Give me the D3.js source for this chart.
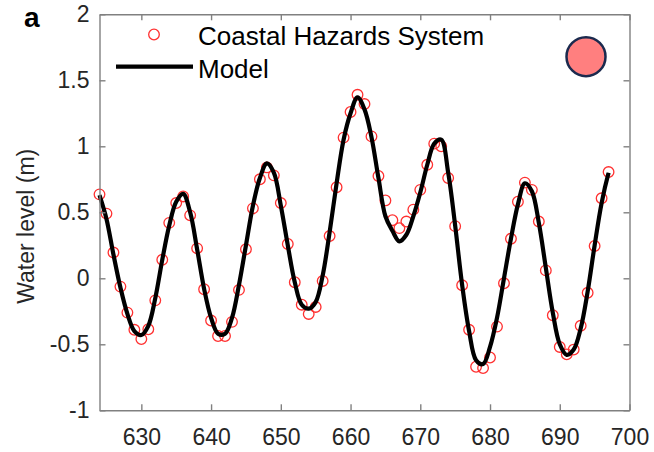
<!DOCTYPE html>
<html>
<head>
<meta charset="utf-8">
<script src="https://cdn.jsdelivr.net/npm/d3@7"></script>
<style>
  html, body { margin: 0; padding: 0; background: #fff; }
  svg { display: block; font-family: "Liberation Sans", Arial, sans-serif; }
</style>
</head>
<body>
<svg id="chart" width="654" height="452"></svg>
<script>
// Hourly water level, Coastal Hazards System observations (hours 624..697)
const chsHours = d3.range(624, 698);
const chsLevels = [
  0.636, 0.49, 0.195, -0.063, -0.26, -0.39, -0.46, -0.386, -0.167, 0.14,
  0.42, 0.57, 0.62, 0.477, 0.227, -0.083, -0.32, -0.437, -0.437, -0.33,
  -0.088, 0.22, 0.53, 0.75, 0.84, 0.78, 0.57, 0.26, -0.03, -0.2,
  -0.27, -0.217, -0.02, 0.32, 0.69, 1.066, 1.26, 1.39, 1.32, 1.075,
  0.775, 0.59, 0.44, 0.38, 0.43, 0.52, 0.67, 0.86, 1.02, 1.0,
  0.76, 0.395, -0.053, -0.39, -0.67, -0.68, -0.60, -0.366, -0.038, 0.30,
  0.58, 0.725, 0.67, 0.43, 0.06, -0.28, -0.52, -0.576, -0.54, -0.36,
  -0.11, 0.245, 0.606, 0.805
];

// Modelled water level at the same hours
const modelHours = d3.range(624, 698);
const modelLevels = [
  0.63, 0.45, 0.18, -0.07, -0.27, -0.40, -0.43, -0.36, -0.15, 0.14,
  0.40, 0.58, 0.64, 0.50, 0.22, -0.08, -0.30, -0.42, -0.42, -0.30,
  -0.05, 0.25, 0.55, 0.76, 0.87, 0.80, 0.55, 0.25, -0.03, -0.20,
  -0.23, -0.18, 0.02, 0.35, 0.72, 1.05, 1.25, 1.37, 1.28, 1.07,
  0.76, 0.47, 0.36, 0.28, 0.33, 0.47, 0.65, 0.86, 1.02, 1.05,
  0.80, 0.40, -0.05, -0.40, -0.62, -0.65, -0.52, -0.30, 0.00, 0.30,
  0.56, 0.72, 0.66, 0.42, 0.08, -0.26, -0.50, -0.58, -0.54, -0.38,
  -0.10, 0.25, 0.57, 0.80
];

const xTicks = [630, 640, 650, 660, 670, 680, 690, 700];
const yTicks = [-1, -0.5, 0, 0.5, 1, 1.5, 2];
const seriesNames = ["Coastal Hazards System", "Model"];
const panelLabel = "a";
const yTitle = "Water level (m)";

const svg = d3.select("#chart");
const plotLeft = 99.5, plotRight = 629.5, plotTop = 14.3, plotBottom = 410.3;

const x = d3.scaleLinear().domain([624, 700]).range([plotLeft, plotRight]);
const y = d3.scaleLinear().domain([-1, 2]).range([plotBottom, plotTop]);

const axisColor = "#808080";
const textColor = "#262626";
const fmt = v => String(v);

// Observations (drawn first so the model line sits on top)
svg.append("g")
  .selectAll("circle")
  .data(chsHours.map((h, i) => [h, chsLevels[i]]))
  .join("circle")
  .attr("cx", d => x(d[0]))
  .attr("cy", d => y(d[1]))
  .attr("r", 5.3)
  .attr("fill", "none")
  .attr("stroke", "#ff3030")
  .attr("stroke-width", 1.3);

// Model line
const line = d3.line()
  .x(d => x(d[0]))
  .y(d => y(d[1]))
  .curve(d3.curveCatmullRom.alpha(0.5));

svg.append("path")
  .datum(modelHours.map((h, i) => [h, modelLevels[i]]))
  .attr("d", line)
  .attr("fill", "none")
  .attr("stroke", "#000")
  .attr("stroke-width", 4.2)
  .attr("stroke-linejoin", "round");

// Axes box with inward ticks
function styleAxis(g) {
  g.select(".domain").attr("stroke", axisColor).attr("stroke-width", 1.4).attr("fill", "none");
  g.selectAll(".tick line").attr("stroke", axisColor).attr("stroke-width", 1.4);
  g.selectAll(".tick text")
    .attr("fill", textColor)
    .style("font-size", "23px")
    .style("font-family", "'Liberation Sans', Arial, sans-serif");
}

svg.append("g")
  .attr("transform", `translate(0,${plotBottom})`)
  .call(d3.axisBottom(x).tickValues(xTicks).tickFormat(fmt)
        .tickSizeInner(-6).tickSizeOuter(0).tickPadding(18))
  .call(styleAxis);

svg.append("g")
  .attr("transform", `translate(0,${plotTop})`)
  .call(d3.axisTop(x).tickValues(xTicks).tickFormat("")
        .tickSizeInner(-6).tickSizeOuter(0))
  .call(styleAxis);

svg.append("g")
  .attr("transform", `translate(${plotLeft},0)`)
  .call(d3.axisLeft(y).tickValues(yTicks).tickFormat(fmt)
        .tickSizeInner(-6).tickSizeOuter(0).tickPadding(10))
  .call(styleAxis);

svg.append("g")
  .attr("transform", `translate(${plotRight},0)`)
  .call(d3.axisRight(y).tickValues(yTicks).tickFormat("")
        .tickSizeInner(-6).tickSizeOuter(0))
  .call(styleAxis);

// Y axis title
svg.append("text")
  .attr("transform", `translate(34,${(plotTop + plotBottom) / 2 + 14}) rotate(-90)`)
  .attr("text-anchor", "middle")
  .attr("fill", textColor)
  .style("font-size", "23px")
  .text(yTitle);

// Panel label
svg.append("text")
  .attr("x", 24)
  .attr("y", 27)
  .attr("fill", "#000")
  .style("font-size", "28px")
  .style("font-weight", "bold")
  .text(panelLabel);

// Legend
const legend = svg.append("g");
legend.append("circle")
  .attr("cx", 154).attr("cy", 34.5).attr("r", 5.3)
  .attr("fill", "none").attr("stroke", "#ff3030").attr("stroke-width", 1.3);
legend.append("line")
  .attr("x1", 116).attr("x2", 193).attr("y1", 66.7).attr("y2", 66.7)
  .attr("stroke", "#000").attr("stroke-width", 4.2);
legend.selectAll("text.entry")
  .data(seriesNames)
  .join("text")
  .attr("class", "entry")
  .attr("x", 198)
  .attr("y", (d, i) => 45 + i * 32.5)
  .attr("fill", "#000")
  .style("font-size", "26px")
  .text(d => d);

// Marker dot in the upper right
svg.append("circle")
  .attr("cx", 586).attr("cy", 56.7).attr("r", 19.5)
  .attr("fill", "#ff7f7f")
  .attr("stroke", "#1b2a4e")
  .attr("stroke-width", 2.5);
</script>
</body>
</html>
